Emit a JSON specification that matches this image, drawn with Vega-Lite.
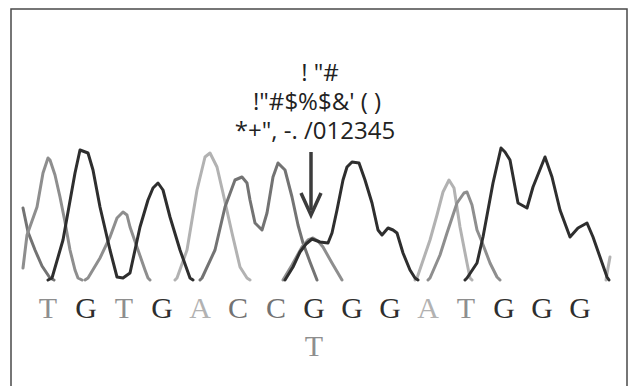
{
  "$schema": "https://vega.github.io/schema/vega-lite/v6.json",
  "width": 630,
  "height": 386,
  "padding": 0,
  "autosize": {"type": "none"},
  "background": "white",
  "config": {"view": {"stroke": null}},
  "datasets": {
    "frame": [{"x1": 11, "x2": 627, "y1": 271, "y2": -112}],
    "traces": [
      {"seg": "C0", "ch": "C", "pos": 23, "sig": 72},
      {"seg": "C0", "ch": "C", "pos": 28, "sig": 48},
      {"seg": "C0", "ch": "C", "pos": 35, "sig": 30},
      {"seg": "C0", "ch": "C", "pos": 42, "sig": 14},
      {"seg": "C0", "ch": "C", "pos": 50, "sig": 2},
      {"seg": "C0", "ch": "C", "pos": 54, "sig": 0},

      {"seg": "T1", "ch": "T", "pos": 23, "sig": 12},
      {"seg": "T1", "ch": "T", "pos": 27, "sig": 45},
      {"seg": "T1", "ch": "T", "pos": 37, "sig": 73},
      {"seg": "T1", "ch": "T", "pos": 43, "sig": 107},
      {"seg": "T1", "ch": "T", "pos": 48, "sig": 122},
      {"seg": "T1", "ch": "T", "pos": 50, "sig": 120},
      {"seg": "T1", "ch": "T", "pos": 55, "sig": 105},
      {"seg": "T1", "ch": "T", "pos": 60, "sig": 83},
      {"seg": "T1", "ch": "T", "pos": 65, "sig": 58},
      {"seg": "T1", "ch": "T", "pos": 70, "sig": 30},
      {"seg": "T1", "ch": "T", "pos": 75, "sig": 10},
      {"seg": "T1", "ch": "T", "pos": 78, "sig": 2},
      {"seg": "T1", "ch": "T", "pos": 82, "sig": 0},

      {"seg": "T2", "ch": "T", "pos": 85, "sig": 0},
      {"seg": "T2", "ch": "T", "pos": 88, "sig": 2},
      {"seg": "T2", "ch": "T", "pos": 100, "sig": 22},
      {"seg": "T2", "ch": "T", "pos": 110, "sig": 43},
      {"seg": "T2", "ch": "T", "pos": 117, "sig": 62},
      {"seg": "T2", "ch": "T", "pos": 123, "sig": 68},
      {"seg": "T2", "ch": "T", "pos": 127, "sig": 65},
      {"seg": "T2", "ch": "T", "pos": 130, "sig": 53},
      {"seg": "T2", "ch": "T", "pos": 138, "sig": 30},
      {"seg": "T2", "ch": "T", "pos": 145, "sig": 10},
      {"seg": "T2", "ch": "T", "pos": 148, "sig": 2},
      {"seg": "T2", "ch": "T", "pos": 150, "sig": 0},

      {"seg": "A1", "ch": "A", "pos": 175, "sig": 0},
      {"seg": "A1", "ch": "A", "pos": 177, "sig": 2},
      {"seg": "A1", "ch": "A", "pos": 187, "sig": 30},
      {"seg": "A1", "ch": "A", "pos": 197, "sig": 90},
      {"seg": "A1", "ch": "A", "pos": 205, "sig": 123},
      {"seg": "A1", "ch": "A", "pos": 210, "sig": 127},
      {"seg": "A1", "ch": "A", "pos": 217, "sig": 113},
      {"seg": "A1", "ch": "A", "pos": 223, "sig": 87},
      {"seg": "A1", "ch": "A", "pos": 232, "sig": 47},
      {"seg": "A1", "ch": "A", "pos": 240, "sig": 13},
      {"seg": "A1", "ch": "A", "pos": 247, "sig": 2},
      {"seg": "A1", "ch": "A", "pos": 250, "sig": 0},

      {"seg": "C1", "ch": "C", "pos": 200, "sig": 0},
      {"seg": "C1", "ch": "C", "pos": 202, "sig": 2},
      {"seg": "C1", "ch": "C", "pos": 215, "sig": 30},
      {"seg": "C1", "ch": "C", "pos": 225, "sig": 73},
      {"seg": "C1", "ch": "C", "pos": 235, "sig": 100},
      {"seg": "C1", "ch": "C", "pos": 242, "sig": 103},
      {"seg": "C1", "ch": "C", "pos": 247, "sig": 97},
      {"seg": "C1", "ch": "C", "pos": 250, "sig": 80},
      {"seg": "C1", "ch": "C", "pos": 255, "sig": 57},
      {"seg": "C1", "ch": "C", "pos": 262, "sig": 50},
      {"seg": "C1", "ch": "C", "pos": 267, "sig": 67},
      {"seg": "C1", "ch": "C", "pos": 273, "sig": 103},
      {"seg": "C1", "ch": "C", "pos": 278, "sig": 117},
      {"seg": "C1", "ch": "C", "pos": 285, "sig": 110},
      {"seg": "C1", "ch": "C", "pos": 292, "sig": 83},
      {"seg": "C1", "ch": "C", "pos": 298, "sig": 55},
      {"seg": "C1", "ch": "C", "pos": 303, "sig": 37},
      {"seg": "C1", "ch": "C", "pos": 310, "sig": 18},
      {"seg": "C1", "ch": "C", "pos": 317, "sig": 0},

      {"seg": "Ts", "ch": "T", "pos": 283, "sig": 0},
      {"seg": "Ts", "ch": "T", "pos": 292, "sig": 15},
      {"seg": "Ts", "ch": "T", "pos": 302, "sig": 33},
      {"seg": "Ts", "ch": "T", "pos": 308, "sig": 40},
      {"seg": "Ts", "ch": "T", "pos": 313, "sig": 42},
      {"seg": "Ts", "ch": "T", "pos": 318, "sig": 39},
      {"seg": "Ts", "ch": "T", "pos": 323, "sig": 33},
      {"seg": "Ts", "ch": "T", "pos": 332, "sig": 17},
      {"seg": "Ts", "ch": "T", "pos": 342, "sig": 0},

      {"seg": "A2", "ch": "A", "pos": 415, "sig": 0},
      {"seg": "A2", "ch": "A", "pos": 417, "sig": 2},
      {"seg": "A2", "ch": "A", "pos": 430, "sig": 40},
      {"seg": "A2", "ch": "A", "pos": 437, "sig": 65},
      {"seg": "A2", "ch": "A", "pos": 443, "sig": 88},
      {"seg": "A2", "ch": "A", "pos": 449, "sig": 100},
      {"seg": "A2", "ch": "A", "pos": 454, "sig": 92},
      {"seg": "A2", "ch": "A", "pos": 460, "sig": 53},
      {"seg": "A2", "ch": "A", "pos": 467, "sig": 17},
      {"seg": "A2", "ch": "A", "pos": 470, "sig": 2},
      {"seg": "A2", "ch": "A", "pos": 472, "sig": 0},

      {"seg": "T3", "ch": "T", "pos": 428, "sig": 0},
      {"seg": "T3", "ch": "T", "pos": 430, "sig": 2},
      {"seg": "T3", "ch": "T", "pos": 440, "sig": 25},
      {"seg": "T3", "ch": "T", "pos": 447, "sig": 47},
      {"seg": "T3", "ch": "T", "pos": 457, "sig": 77},
      {"seg": "T3", "ch": "T", "pos": 464, "sig": 87},
      {"seg": "T3", "ch": "T", "pos": 467, "sig": 88},
      {"seg": "T3", "ch": "T", "pos": 472, "sig": 75},
      {"seg": "T3", "ch": "T", "pos": 477, "sig": 50},
      {"seg": "T3", "ch": "T", "pos": 482, "sig": 38},
      {"seg": "T3", "ch": "T", "pos": 490, "sig": 17},
      {"seg": "T3", "ch": "T", "pos": 497, "sig": 3},
      {"seg": "T3", "ch": "T", "pos": 500, "sig": 0},

      {"seg": "A3", "ch": "A", "pos": 606, "sig": 0},
      {"seg": "A3", "ch": "A", "pos": 608, "sig": 12},
      {"seg": "A3", "ch": "A", "pos": 610, "sig": 23},

      {"seg": "G1", "ch": "G", "pos": 48, "sig": 0},
      {"seg": "G1", "ch": "G", "pos": 52, "sig": 2},
      {"seg": "G1", "ch": "G", "pos": 63, "sig": 40},
      {"seg": "G1", "ch": "G", "pos": 75, "sig": 107},
      {"seg": "G1", "ch": "G", "pos": 80, "sig": 130},
      {"seg": "G1", "ch": "G", "pos": 88, "sig": 127},
      {"seg": "G1", "ch": "G", "pos": 93, "sig": 110},
      {"seg": "G1", "ch": "G", "pos": 100, "sig": 73},
      {"seg": "G1", "ch": "G", "pos": 110, "sig": 30},
      {"seg": "G1", "ch": "G", "pos": 117, "sig": 3},
      {"seg": "G1", "ch": "G", "pos": 123, "sig": 2},
      {"seg": "G1", "ch": "G", "pos": 130, "sig": 7},
      {"seg": "G1", "ch": "G", "pos": 140, "sig": 53},
      {"seg": "G1", "ch": "G", "pos": 148, "sig": 80},
      {"seg": "G1", "ch": "G", "pos": 153, "sig": 92},
      {"seg": "G1", "ch": "G", "pos": 158, "sig": 97},
      {"seg": "G1", "ch": "G", "pos": 163, "sig": 90},
      {"seg": "G1", "ch": "G", "pos": 170, "sig": 63},
      {"seg": "G1", "ch": "G", "pos": 180, "sig": 30},
      {"seg": "G1", "ch": "G", "pos": 190, "sig": 2},
      {"seg": "G1", "ch": "G", "pos": 193, "sig": 0},

      {"seg": "G3", "ch": "G", "pos": 285, "sig": 0},
      {"seg": "G3", "ch": "G", "pos": 293, "sig": 13},
      {"seg": "G3", "ch": "G", "pos": 300, "sig": 28},
      {"seg": "G3", "ch": "G", "pos": 306, "sig": 36},
      {"seg": "G3", "ch": "G", "pos": 312, "sig": 41},
      {"seg": "G3", "ch": "G", "pos": 320, "sig": 38},
      {"seg": "G3", "ch": "G", "pos": 328, "sig": 37},
      {"seg": "G3", "ch": "G", "pos": 332, "sig": 47},
      {"seg": "G3", "ch": "G", "pos": 337, "sig": 70},
      {"seg": "G3", "ch": "G", "pos": 343, "sig": 100},
      {"seg": "G3", "ch": "G", "pos": 347, "sig": 113},
      {"seg": "G3", "ch": "G", "pos": 352, "sig": 118},
      {"seg": "G3", "ch": "G", "pos": 359, "sig": 117},
      {"seg": "G3", "ch": "G", "pos": 365, "sig": 100},
      {"seg": "G3", "ch": "G", "pos": 372, "sig": 77},
      {"seg": "G3", "ch": "G", "pos": 378, "sig": 50},
      {"seg": "G3", "ch": "G", "pos": 382, "sig": 45},
      {"seg": "G3", "ch": "G", "pos": 388, "sig": 52},
      {"seg": "G3", "ch": "G", "pos": 393, "sig": 50},
      {"seg": "G3", "ch": "G", "pos": 397, "sig": 47},
      {"seg": "G3", "ch": "G", "pos": 403, "sig": 27},
      {"seg": "G3", "ch": "G", "pos": 410, "sig": 10},
      {"seg": "G3", "ch": "G", "pos": 415, "sig": 2},
      {"seg": "G3", "ch": "G", "pos": 418, "sig": 0},

      {"seg": "G4", "ch": "G", "pos": 465, "sig": 0},
      {"seg": "G4", "ch": "G", "pos": 467, "sig": 2},
      {"seg": "G4", "ch": "G", "pos": 477, "sig": 17},
      {"seg": "G4", "ch": "G", "pos": 483, "sig": 43},
      {"seg": "G4", "ch": "G", "pos": 493, "sig": 97},
      {"seg": "G4", "ch": "G", "pos": 501, "sig": 132},
      {"seg": "G4", "ch": "G", "pos": 505, "sig": 128},
      {"seg": "G4", "ch": "G", "pos": 510, "sig": 120},
      {"seg": "G4", "ch": "G", "pos": 518, "sig": 77},
      {"seg": "G4", "ch": "G", "pos": 527, "sig": 72},
      {"seg": "G4", "ch": "G", "pos": 533, "sig": 93},
      {"seg": "G4", "ch": "G", "pos": 545, "sig": 123},
      {"seg": "G4", "ch": "G", "pos": 552, "sig": 103},
      {"seg": "G4", "ch": "G", "pos": 560, "sig": 70},
      {"seg": "G4", "ch": "G", "pos": 570, "sig": 43},
      {"seg": "G4", "ch": "G", "pos": 578, "sig": 52},
      {"seg": "G4", "ch": "G", "pos": 587, "sig": 57},
      {"seg": "G4", "ch": "G", "pos": 593, "sig": 43},
      {"seg": "G4", "ch": "G", "pos": 600, "sig": 23},
      {"seg": "G4", "ch": "G", "pos": 607, "sig": 3},
      {"seg": "G4", "ch": "G", "pos": 609, "sig": 0}
    ],
    "arrowShaft": [{"pos": 311, "top": 128, "bottom": 70}],
    "arrowHead": [
      {"pos": 301, "sig": 87},
      {"pos": 311, "sig": 65},
      {"pos": 321, "sig": 87}
    ],
    "bases": [
      {"pos": 48, "h": -38, "ch": "T", "base": "T"},
      {"pos": 86, "h": -38, "ch": "G", "base": "G"},
      {"pos": 124, "h": -38, "ch": "T", "base": "T"},
      {"pos": 162, "h": -38, "ch": "G", "base": "G"},
      {"pos": 200, "h": -38, "ch": "A", "base": "A"},
      {"pos": 238, "h": -38, "ch": "C", "base": "C"},
      {"pos": 276, "h": -38, "ch": "C", "base": "C"},
      {"pos": 314, "h": -38, "ch": "G", "base": "G"},
      {"pos": 352, "h": -38, "ch": "G", "base": "G"},
      {"pos": 390, "h": -38, "ch": "G", "base": "G"},
      {"pos": 428, "h": -38, "ch": "A", "base": "A"},
      {"pos": 466, "h": -38, "ch": "T", "base": "T"},
      {"pos": 504, "h": -38, "ch": "G", "base": "G"},
      {"pos": 542, "h": -38, "ch": "G", "base": "G"},
      {"pos": 580, "h": -38, "ch": "G", "base": "G"},
      {"pos": 314, "h": -76, "ch": "T", "base": "T"}
    ],
    "notes": [
      {"pos": 320, "h": 206, "label": "! \"#", "style": "italic"},
      {"pos": 317, "h": 177, "label": "!\"#$%$&' ( )", "style": "normal"},
      {"pos": 315, "h": 148, "label": "*+\", -. /012345", "style": "normal"}
    ]
  },
  "encoding": {
    "x": {"type": "quantitative", "scale": {"domain": [0, 630], "nice": false, "zero": false}, "axis": null},
    "y": {"type": "quantitative", "scale": {"domain": [-106, 280], "nice": false, "zero": false}, "axis": null}
  },
  "layer": [
    {
      "data": {"name": "frame"},
      "mark": {"type": "rect", "fill": null, "stroke": "#4a4a4a", "strokeWidth": 1.5, "clip": true},
      "encoding": {
        "x": {"field": "x1", "type": "quantitative"},
        "x2": {"field": "x2"},
        "y": {"field": "y1", "type": "quantitative"},
        "y2": {"field": "y2"}
      }
    },
    {
      "data": {"name": "traces"},
      "mark": {"type": "line", "strokeWidth": 3, "strokeJoin": "round", "strokeCap": "round"},
      "encoding": {
        "x": {"field": "pos", "type": "quantitative"},
        "y": {"field": "sig", "type": "quantitative"},
        "detail": {"field": "seg"},
        "color": {"field": "ch", "type": "nominal", "legend": null,
          "scale": {"domain": ["A", "C", "G", "T"], "range": ["#b2b2b2", "#737373", "#2e2e2e", "#8e8e8e"]}}
      }
    },
    {
      "data": {"name": "arrowShaft"},
      "mark": {"type": "rule", "strokeWidth": 3.5, "color": "#3c3c3c"},
      "encoding": {
        "x": {"field": "pos", "type": "quantitative"},
        "y": {"field": "top", "type": "quantitative"},
        "y2": {"field": "bottom"}
      }
    },
    {
      "data": {"name": "arrowHead"},
      "mark": {"type": "line", "strokeWidth": 3.5, "color": "#3c3c3c", "strokeJoin": "miter"},
      "encoding": {
        "x": {"field": "pos", "type": "quantitative"},
        "y": {"field": "sig", "type": "quantitative"}
      }
    },
    {
      "data": {"name": "bases"},
      "mark": {"type": "text", "font": "Liberation Serif", "fontSize": 30, "baseline": "alphabetic", "align": "center"},
      "encoding": {
        "x": {"field": "pos", "type": "quantitative"},
        "y": {"field": "h", "type": "quantitative"},
        "text": {"field": "base"},
        "color": {"field": "ch", "type": "nominal", "legend": null}
      }
    },
    {
      "data": {"name": "notes"},
      "mark": {"type": "text", "font": "Open Sans", "fontSize": 24, "baseline": "middle", "align": "center", "color": "#222222"},
      "encoding": {
        "x": {"field": "pos", "type": "quantitative"},
        "y": {"field": "h", "type": "quantitative"},
        "text": {"field": "label"},
        "fontStyle": {"field": "style", "type": "nominal", "legend": null}
      }
    }
  ]
}
